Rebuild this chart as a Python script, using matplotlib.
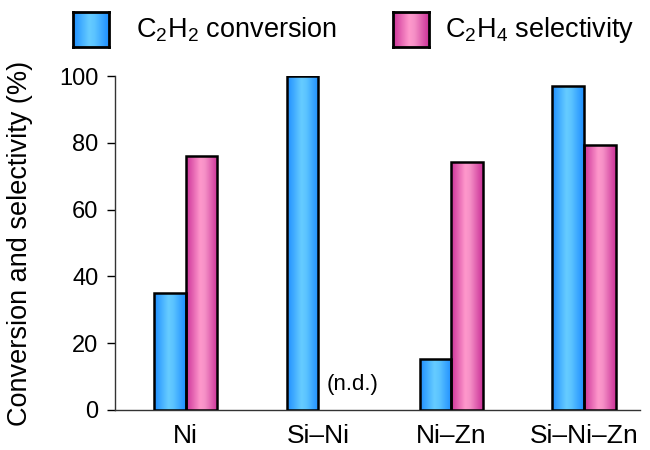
import numpy as np
import matplotlib.pyplot as plt
from matplotlib.colors import LinearSegmentedColormap

plt.rcParams['font.family'] = ['Liberation Sans', 'DejaVu Sans']
plt.rcParams['mathtext.fontset'] = 'custom'
plt.rcParams['mathtext.rm'] = 'Liberation Sans'
plt.rcParams['mathtext.it'] = 'Liberation Sans:italic'

catalysts = ['Ni', 'Si–Ni', 'Ni–Zn', 'Si–Ni–Zn']
conversion = [35, 100, 15.3, 97]          # C2H2 conversion (%)
selectivity = [76, np.nan, 74.3, 79.3]    # C2H4 selectivity (%), n.d. for Si-Ni

# side-lit "cylinder" look: dark edges, light band a bit left of centre
blue_cm = LinearSegmentedColormap.from_list(
    'blu', [(0, '#1f8fff'), (0.45, '#66ccff'), (0.6, '#5cc4ff'), (1, '#1f8fff')])
pink_cm = LinearSegmentedColormap.from_list(
    'pnk', [(0, '#cc3399'), (0.45, '#ff99cc'), (0.6, '#f590c6'), (1, '#cc3399')])
grad = np.linspace(0, 1, 64).reshape(1, -1)


def shade(ax, bars, cmap):
    for b in bars:
        if not np.isfinite(b.get_height()) or b.get_height() == 0:
            continue
        x0, y0 = b.get_x(), b.get_y()
        im = ax.imshow(grad, cmap=cmap, aspect='auto', interpolation='bicubic',
                       extent=(x0, x0 + b.get_width(), y0, y0 + b.get_height()),
                       zorder=b.get_zorder() - 0.1)
        im.set_clip_path(b)
        b.set_facecolor('none')


fig = plt.figure(figsize=(6.5, 4.5), dpi=100)
ax = fig.add_axes([0.177, 0.089, 0.808, 0.742])

x = np.arange(len(catalysts))
w = 0.24
b1 = ax.bar(x - w / 2, conversion, w, edgecolor='black', linewidth=1.8, zorder=3)
b2 = ax.bar(x + w / 2, np.nan_to_num(selectivity), w, edgecolor='black',
            linewidth=1.8, zorder=3)
shade(ax, b1, blue_cm)
shade(ax, b2, pink_cm)
for b, v in zip(b2, selectivity):
    if np.isnan(v):
        b.set_visible(False)
        ax.text(b.get_x() + b.get_width() / 2 + 0.14, 7.5, '(n.d.)', ha='center',
                va='center', fontsize=16)

ax.set_xlim(-0.53, 3.42)
ax.set_ylim(0, 100)
ax.set_yticks(range(0, 101, 20))
ax.set_xticks(x)
ax.set_xticklabels(catalysts)
ax.tick_params(axis='y', direction='out', length=6, width=1, labelsize=17, pad=6)
ax.tick_params(axis='x', length=0, labelsize=19, pad=10)
ax.set_ylabel('Conversion and selectivity (%)', fontsize=19.5)
ax.yaxis.set_label_coords(-0.156, 0.5)
for s in ['top', 'right']:
    ax.spines[s].set_visible(False)
for s in ['left', 'bottom']:
    ax.spines[s].set_linewidth(1)
    ax.spines[s].set_color('#333333')

# legend drawn as shaded boxes along the top
for bx, tx, cmap, label in [(0.112, 0.209, blue_cm, r'C$_2$H$_2$ conversion'),
                            (0.605, 0.685, pink_cm, r'C$_2$H$_4$ selectivity')]:
    lax = fig.add_axes([bx, 0.896, 0.055, 0.078])
    lax.imshow(grad, cmap=cmap, aspect='auto', interpolation='bicubic')
    lax.set_xticks([])
    lax.set_yticks([])
    for sp in lax.spines.values():
        sp.set_linewidth(2)
        sp.set_color('black')
    fig.text(tx, 0.933, label, fontsize=19.5, va='center', ha='left')

fig.savefig('out.png', dpi=100)
